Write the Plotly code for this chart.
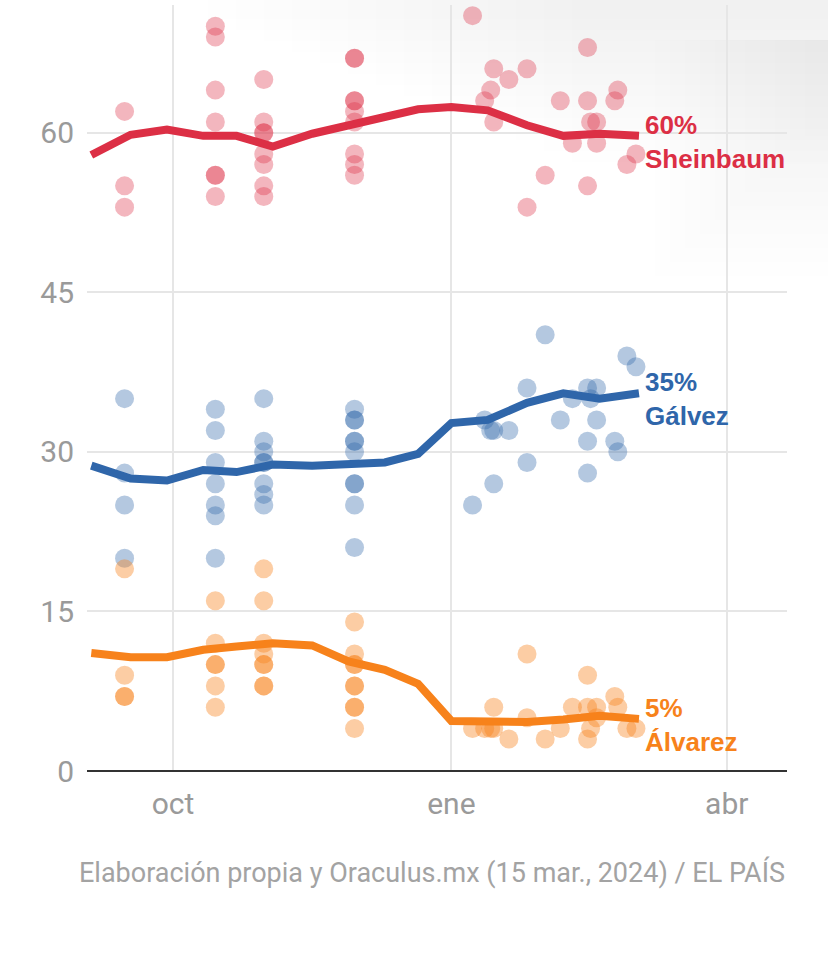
import plotly.graph_objects as go

# ---------------- data ----------------
# individual polls (dots)
sheinbaum_dates = (["2023-09-15"] * 3 + ["2023-10-15"] * 7 + ["2023-10-31"] * 8 + ["2023-11-30"] * 9 +
                   ["2024-01-08", "2024-01-12", "2024-01-14", "2024-01-15", "2024-01-15", "2024-01-20",
                    "2024-01-26", "2024-01-26", "2024-02-01", "2024-02-06", "2024-02-10", "2024-02-15",
                    "2024-02-15", "2024-02-15", "2024-02-16", "2024-02-18", "2024-02-18", "2024-02-24",
                    "2024-02-25", "2024-02-28", "2024-03-02"])
sheinbaum_polls = ([62, 55, 53] + [70, 69, 64, 61, 56, 56, 54] + [65, 61, 60, 60, 58, 57, 55, 54] +
                   [67, 67, 63, 63, 62, 61, 58, 57, 56] +
                   [71, 63, 64, 66, 61, 65, 66, 53, 56, 63, 59, 68, 63, 55, 61, 61, 59, 63, 64, 57, 58])

galvez_dates = (["2023-09-15"] * 4 + ["2023-10-15"] * 7 + ["2023-10-31"] * 8 + ["2023-11-30"] * 10 +
                ["2024-01-08", "2024-01-12", "2024-01-14", "2024-01-15", "2024-01-15", "2024-01-20",
                 "2024-01-26", "2024-01-26", "2024-02-01", "2024-02-06", "2024-02-10", "2024-02-15",
                 "2024-02-15", "2024-02-15", "2024-02-16", "2024-02-18", "2024-02-18", "2024-02-24",
                 "2024-02-25", "2024-02-28", "2024-03-02"])
galvez_polls = ([35, 28, 25, 20] + [34, 32, 29, 27, 25, 24, 20] + [35, 31, 30, 29, 29, 27, 26, 25] +
                [34, 33, 33, 31, 31, 30, 27, 27, 25, 21] +
                [25, 33, 32, 27, 32, 32, 29, 36, 41, 33, 35, 28, 31, 36, 35, 33, 36, 31, 30, 39, 38])

alvarez_dates = (["2023-09-15"] * 4 + ["2023-10-15"] * 6 + ["2023-10-31"] * 8 + ["2023-11-30"] * 9 +
                 ["2024-01-08", "2024-01-12", "2024-01-14", "2024-01-15", "2024-01-15", "2024-01-20",
                  "2024-01-26", "2024-01-26", "2024-02-01", "2024-02-06", "2024-02-10", "2024-02-15",
                  "2024-02-15", "2024-02-15", "2024-02-16", "2024-02-18", "2024-02-18", "2024-02-24",
                  "2024-02-25", "2024-02-28", "2024-03-02"])
alvarez_polls = ([19, 9, 7, 7] + [16, 12, 10, 10, 8, 6] + [19, 16, 12, 11, 10, 10, 8, 8] +
                 [14, 11, 10, 10, 8, 8, 6, 6, 4] +
                 [4, 4, 4, 6, 4, 3, 5, 11, 3, 4, 6, 3, 6, 9, 4, 6, 5, 7, 6, 4, 4])

# poll-of-polls trend
trend_dates = ["2023-09-04", "2023-09-17", "2023-09-29", "2023-10-11", "2023-10-22", "2023-11-03",
               "2023-11-16", "2023-11-28", "2023-12-10", "2023-12-21", "2024-01-01", "2024-01-13",
               "2024-01-26", "2024-02-07", "2024-02-19", "2024-03-03"]
sheinbaum_trend = [57.9, 59.8, 60.3, 59.7, 59.7, 58.7, 59.9, 60.7, 61.5, 62.2, 62.4, 62.1, 60.7, 59.7, 59.9, 59.7]
galvez_trend = [28.7, 27.5, 27.3, 28.3, 28.1, 28.8, 28.7, 28.9, 29.0, 29.8, 32.7, 33.0, 34.6, 35.5, 35.0, 35.5]
alvarez_trend = [11.1, 10.7, 10.7, 11.4, 11.7, 12.0, 11.8, 10.3, 9.5, 8.2, 4.7, 4.7, 4.6, 4.85, 5.2, 4.9]

candidates = ["Sheinbaum", "Gálvez", "Álvarez"]
final_labels = ["60%", "35%", "5%"]

x_tick_vals = ["2023-10-01", "2024-01-01", "2024-04-01"]
x_tick_text = ["oct", "ene", "abr"]
y_tick_vals = [0, 15, 30, 45, 60]

source_text = "Elaboración propia y Oraculus.mx (15 mar., 2024) / EL PAÍS"

# ---------------- styling ----------------
colors = ["#dc2f45", "#2f66aa", "#f7821b"]
dot_opacity = [0.35, 0.36, 0.40]
tick_font = dict(family="Roboto, Arial, sans-serif", size=30, color="#9a9a9a")

fig = go.Figure()

series = [
    (sheinbaum_dates, sheinbaum_polls, sheinbaum_trend),
    (galvez_dates, galvez_polls, galvez_trend),
    (alvarez_dates, alvarez_polls, alvarez_trend),
]

for i, (d, p, t) in enumerate(series):
    fig.add_trace(go.Scatter(
        x=d, y=p, mode="markers",
        marker=dict(size=19, color=colors[i], opacity=dot_opacity[i], line=dict(width=0)),
        hoverinfo="skip", showlegend=False))

for i, (d, p, t) in enumerate(series):
    fig.add_trace(go.Scatter(
        x=trend_dates, y=t, mode="lines",
        line=dict(color=colors[i], width=8, shape="linear"),
        hoverinfo="skip", showlegend=False))
    fig.add_annotation(
        x=trend_dates[-1], y=t[-1], xref="x", yref="y",
        text=f"<b>{final_labels[i]}</b><br><b>{candidates[i]}</b>",
        showarrow=False, xanchor="left", yanchor="middle", align="left",
        xshift=4, yshift=-6,
        font=dict(family="Liberation Sans, Arial, sans-serif", size=26, color=colors[i]))

# source caption
fig.add_annotation(
    x=1, y=-0.132, xref="paper", yref="paper", xanchor="right", yanchor="middle",
    text=source_text, showarrow=False,
    font=dict(family="Roboto, Arial, sans-serif", size=27, color="#a3a3a3"))

# subtle top shading (screenshot shadow)
def px_x(p):
    return (p - 87) / 700


def px_y(p):
    return 1 - (p - 5) / 766


shapes = []
for k in range(1, 15):
    shapes.append(dict(type="rect", xref="paper", yref="paper",
                       x0=px_x(180 + 28 * k), x1=px_x(828),
                       y0=px_y(8 + 11 * k), y1=px_y(0),
                       fillcolor="black", opacity=0.0038, line=dict(width=0), layer="below"))
for k in range(1, 12):
    shapes.append(dict(type="rect", xref="paper", yref="paper",
                       x0=px_x(640 + 15 * k), x1=px_x(828),
                       y0=px_y(290 - 14 * k), y1=px_y(40),
                       fillcolor="black", opacity=0.003, line=dict(width=0), layer="below"))
fig.update_layout(shapes=shapes)

fig.update_layout(
    width=828, height=959,
    margin=dict(l=87, r=41, t=5, b=188),
    paper_bgcolor="white", plot_bgcolor="rgba(0,0,0,0)",
    xaxis=dict(
        type="date", range=["2023-09-02 14:00", "2024-04-20 22:00"],
        tickvals=x_tick_vals, ticktext=x_tick_text, tickfont=tick_font,
        showgrid=True, gridcolor="#e6e6e6", gridwidth=2,
        ticks="", ticklabelstandoff=12,
        showline=False, zeroline=False, fixedrange=True),
    yaxis=dict(
        range=[0, 72], tickvals=y_tick_vals, tickfont=tick_font,
        showgrid=True, gridcolor="#e6e6e6", gridwidth=2,
        ticks="", ticklabelstandoff=12,
        zeroline=True, zerolinecolor="#333333", zerolinewidth=2.5,
        showline=False, fixedrange=True),
)

fig.write_html("out.html", config={"displayModeBar": False, "staticPlot": True},
               post_script="document.body.style.margin='0';")
